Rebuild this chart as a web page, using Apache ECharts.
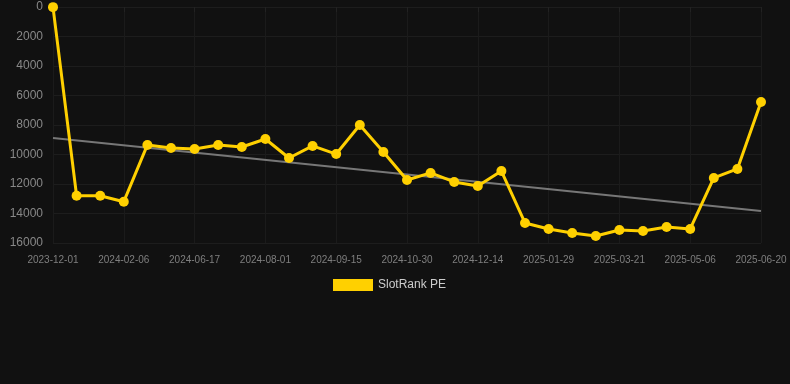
<!DOCTYPE html>
<html><head><meta charset="utf-8">
<script src="https://cdn.jsdelivr.net/npm/echarts@6/dist/echarts.min.js"></script>
<style>html,body{margin:0;padding:0;background:#111111;}#c{width:790px;height:384px;}</style>
</head><body><div id="c"></div>
<script>
const categories = ['2023-12-01','2023-12-23','2024-01-14','2024-02-06','2024-03-20','2024-05-03','2024-06-17','2024-07-02','2024-07-17','2024-08-01','2024-08-16','2024-08-31','2024-09-15','2024-09-30','2024-10-15','2024-10-30','2024-11-14','2024-11-29','2024-12-14','2024-12-29','2025-01-13','2025-01-29','2025-02-15','2025-03-04','2025-03-21','2025-04-05','2025-04-20','2025-05-06','2025-05-21','2025-06-05','2025-06-20'];
const rankValues = [10,12800,12800,13200,9350,9560,9630,9360,9490,8950,10240,9420,9970,8000,9830,11730,11250,11860,12140,11120,14640,15050,15320,15530,15120,15190,14920,15050,11590,10980,6440];
const trendEnds = [8880, 13830];
const yTicks = {min:0, max:16000, interval:2000};

const chart = echarts.init(document.getElementById('c'));
chart.setOption({
  backgroundColor:'#111111',
  animation:false,
  grid:{left:53,right:29,top:7,bottom:141,containLabel:false},
  legend:{show:true,top:274,left:328,itemWidth:40,itemHeight:12,itemGap:10,
    textStyle:{color:'#cccccc',fontSize:12,fontFamily:'Arial, Liberation Sans, sans-serif'},
    data:[{name:'SlotRank PE',icon:'rect'}]},
  xAxis:{type:'category',data:categories,boundaryGap:false,
    axisLine:{show:false},
    axisTick:{show:true,interval:2,length:5,lineStyle:{color:'#222222'}},
    axisLabel:{interval:2,color:'#7f7f7f',fontSize:10,margin:12,fontFamily:'Arial, Liberation Sans, sans-serif'},
    splitLine:{show:true,interval:2,lineStyle:{color:'#1b1b1b'}}},
  yAxis:{type:'value',inverse:true,min:yTicks.min,max:yTicks.max,interval:yTicks.interval,
    axisLine:{show:false},axisTick:{show:false},
    axisLabel:{color:'#888888',fontSize:12,margin:10,fontFamily:'Arial, Liberation Sans, sans-serif',
      formatter:function(v){return String(v);}},
    splitLine:{lineStyle:{color:'#1d1d1d'}}},
  series:[
    {name:'Trend',type:'line',data:[[categories[0],trendEnds[0]],[categories[categories.length-1],trendEnds[1]]],
     symbol:'none',lineStyle:{color:'#777777',width:2},itemStyle:{color:'#777777'},z:1,silent:true},
    {name:'SlotRank PE',type:'line',data:rankValues,symbol:'circle',symbolSize:10,
     lineStyle:{color:'#ffd000',width:3},itemStyle:{color:'#ffd000'},z:3}
  ]
});
</script></body></html>
